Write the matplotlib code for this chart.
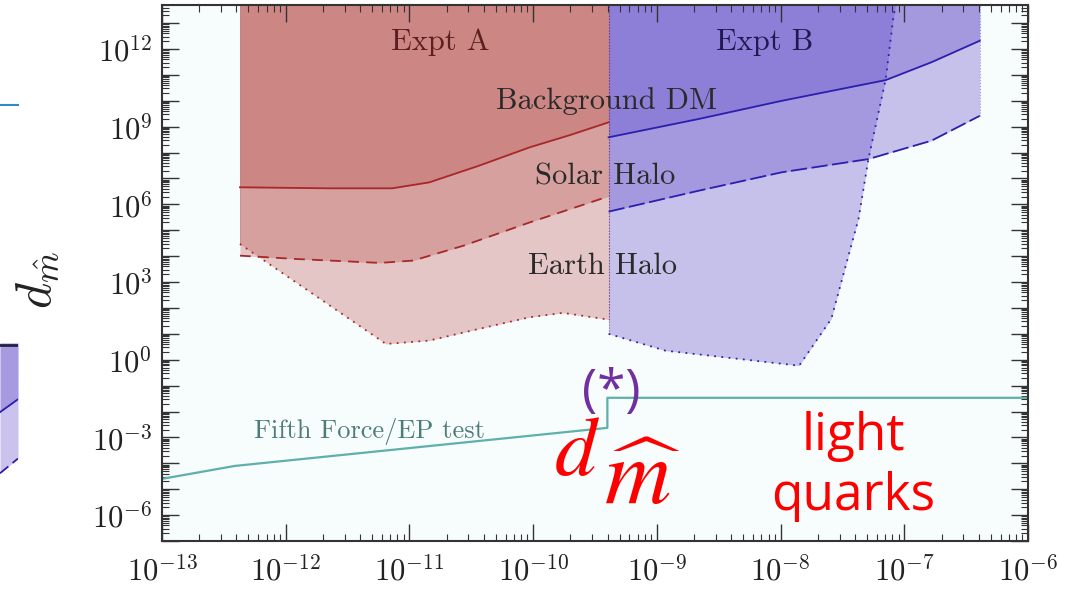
import numpy as np
import matplotlib
matplotlib.use('Agg')
import matplotlib.pyplot as plt
from matplotlib.ticker import LogLocator, FuncFormatter, NullFormatter
from matplotlib.lines import Line2D

plt.rcParams['mathtext.fontset'] = 'cm'

# 数値はすべて log10 で読み取った値
# Expt A (赤)
bkg_A_x = [-12.37, -11.65, -11.14, -10.84, -10.44, -10.03, -9.7, -9.39]
bkg_A = [6.66, 6.62, 6.62, 6.85, 7.49, 8.20, 8.68, 9.17]
solar_A_x = [-12.37, -11.91, -11.24, -10.97, -10.56, -10.03, -9.39]
solar_A = [4.02, 3.89, 3.74, 3.83, 4.41, 5.30, 6.31]
earth_A_x = [-12.37, -11.19, -10.84, -10.44, -10.03, -9.76, -9.39]
earth_A = [4.47, 0.61, 0.74, 1.19, 1.64, 1.81, 1.55]

# Expt B (青)
bkg_B_x = [-9.39, -8.66, -7.99, -7.15, -6.78, -6.39]
bkg_B = [8.59, 9.30, 10.00, 10.80, 11.49, 12.32]
solar_B_x = [-9.39, -8.66, -7.99, -7.29, -6.78, -6.39]
solar_B = [5.72, 6.53, 7.24, 7.75, 8.46, 9.42]
earth_B_x = [-9.39, -8.93, -7.85, -7.59, -7.37, -7.29, -7.15, -7.09, -7.07]
earth_B = [1.00, 0.35, -0.23, 1.58, 5.44, 7.75, 10.84, 13.16, 13.70]

# Fifth Force / EP test
ff_x = [-13.0, -12.41, -9.40, -9.40, -6.0]
ff = [-4.60, -4.10, -2.63, -1.47, -1.47]

xlim = (1e-13, 1e-6)
ylim = (1e-7, 10**13.7)

red_fill = '#b84a48'
red_line = '#a8282a'
blue_fill = '#5f46c8'
blue_line = '#2b1fae'
teal = '#5fb0aa'

def p(v):
	return 10**np.array(v)

fig = plt.figure(figsize=(10.68, 5.89), dpi=100)
ax = fig.add_axes([162/1068, 48/589, 866/1068, 536/589])
ax.set_facecolor('#f7fcfc')

ytop = ylim[1]

# 赤領域（3層を半透明で重ねる）
for xs, ys in ((earth_A_x, earth_A), (solar_A_x, solar_A), (bkg_A_x, bkg_A)):
	ax.fill_between(p(xs), p(ys), ytop, color=red_fill, alpha=0.3, lw=0)
ax.plot(p(bkg_A_x), p(bkg_A), color=red_line, lw=1.3)
ax.plot(p(solar_A_x), p(solar_A), color=red_line, lw=1.3, ls=(0, (6, 4)))
ax.plot(p(earth_A_x), p(earth_A), color=red_line, lw=1.3, ls=(0, (1, 3)))
ax.vlines(p(earth_A_x[0]), p(earth_A[0]), ytop, color=red_line, lw=0.6, alpha=0.4)
ax.vlines(p(earth_A_x[-1]), p(earth_A[-1]), ytop, color=red_line, lw=0.8, ls=':', alpha=0.6)

# 青領域
for xs, ys in ((earth_B_x, earth_B), (solar_B_x, solar_B), (bkg_B_x, bkg_B)):
	ax.fill_between(p(xs), p(ys), ytop, color=blue_fill, alpha=0.32, lw=0)
ax.plot(p(bkg_B_x), p(bkg_B), color=blue_line, lw=1.3)
ax.plot(p(solar_B_x), p(solar_B), color=blue_line, lw=1.3, ls=(0, (9, 2.5)))
ax.plot(p(earth_B_x), p(earth_B), color=blue_line, lw=1.3, ls=(0, (1, 3)))
ax.vlines(p(earth_B_x[0]), p(earth_B[0]), ytop, color=blue_line, lw=0.8, ls=':', alpha=0.6)
ax.vlines(p(solar_B_x[-1]), p(solar_B[-1]), ytop, color=blue_line, lw=0.8, ls=':', alpha=0.4)

# Fifth force
ax.plot(p(ff_x), p(ff), color=teal, lw=1.6)

ax.set_xscale('log')
ax.set_yscale('log')
ax.set_xlim(*xlim)
ax.set_ylim(*ylim)

# 目盛り
ax.xaxis.set_major_locator(LogLocator(base=10, numticks=20))
ax.xaxis.set_minor_locator(LogLocator(base=10, subs=np.arange(2, 10), numticks=100))
ax.yaxis.set_major_locator(LogLocator(base=10, numticks=40))
ax.yaxis.set_minor_locator(LogLocator(base=10, subs=np.arange(2, 10), numticks=200))
ax.xaxis.set_major_formatter(FuncFormatter(lambda v, pos: r'$10^{%d}$' % round(np.log10(v))))
ax.yaxis.set_major_formatter(FuncFormatter(
	lambda v, pos: r'$10^{%d}$' % round(np.log10(v)) if round(np.log10(v)) % 3 == 0 else ''))
ax.xaxis.set_minor_formatter(NullFormatter())
ax.yaxis.set_minor_formatter(NullFormatter())
ax.tick_params(which='both', direction='in', top=True, right=True, colors='#333333', labelcolor='#222222')
ax.tick_params(which='major', length=12.5, width=1.0, labelsize=22)
ax.tick_params(axis='x', which='major', pad=10)
ax.tick_params(axis='y', which='major', pad=7)
ax.tick_params(which='minor', length=5, width=0.8)
for s in ax.spines.values():
	s.set_linewidth(1.5)
	s.set_color('#333333')

# ラベル
serif = 'cmr10'
labels = [
	(0.321, 0.931, 'Expt A', 22, '#5c1f1f'),
	(0.696, 0.931, 'Expt B', 22, '#201a50'),
	(0.513, 0.821, 'Background DM', 22, '#2a2a2a'),
	(0.512, 0.679, 'Solar Halo', 22, '#2a2a2a'),
	(0.509, 0.513, 'Earth Halo', 22, '#2a2a2a'),
	(0.240, 0.205, 'Fifth Force/EP test', 19, '#4d7d7a'),
]
for lx, ly, txt, fs, c in labels:
	ax.text(lx, ly, txt, transform=ax.transAxes, ha='center', va='center',
			fontsize=fs, family=serif, color=c)

fig.text(37/1068, 1 - 280/589, r'$d_{\hat{m}}$', rotation=90, ha='center', va='center',
		 fontsize=36, color='#222222')

# スライド上の注釈（d と添字 m̂ を別々に置く）
fig.text(554/1068, 1 - 475/589, r'$d$', ha='left', va='baseline', fontsize=60,
		 color='#ff0000', math_fontfamily='stix')
fig.text(604/1068, 1 - 504/589, r'$\widehat{m}$', ha='left', va='baseline', fontsize=66,
		 color='#ff0000', math_fontfamily='stix')
fig.text(611/1068, 1 - 392/589, '(*)', ha='center', va='center', fontsize=37,
		 color='#7030a0', family='Open Sans')
fig.text(853/1068, 1 - 436/589, 'light', ha='center', va='center', fontsize=37,
		 color='#ff0000', family='Open Sans')
fig.text(853/1068, 1 - 497/589, 'quarks', ha='center', va='center', fontsize=37,
		 color='#ff0000', family='Open Sans')

# 左端の別図の切れ端
fig.add_artist(Line2D([0, 18/1068], [1 - 105/589] * 2, color='#2e8bc9', lw=1.5))
side_x = [0, 1]
side_solid = [0.545, 0.63]
side_dash = [0.143, 0.24]
sax = fig.add_axes([0, 1 - 495/589, 18/1068, 152/589])
sax.set_xlim(0, 1)
sax.set_ylim(0, 1)
sax.axis('off')
sax.fill_between(side_x, side_dash, 1, color=blue_fill, alpha=0.32, lw=0)
sax.fill_between(side_x, side_solid, 1, color=blue_fill, alpha=0.32, lw=0)
sax.plot(side_x, side_solid, color=blue_line, lw=1.3)
sax.plot(side_x, side_dash, color=blue_line, lw=1.3, ls=(0, (6, 3)))
sax.plot([0, 1], [0.99, 0.99], color='#222244', lw=2)

fig.savefig('out.png', dpi=100)
